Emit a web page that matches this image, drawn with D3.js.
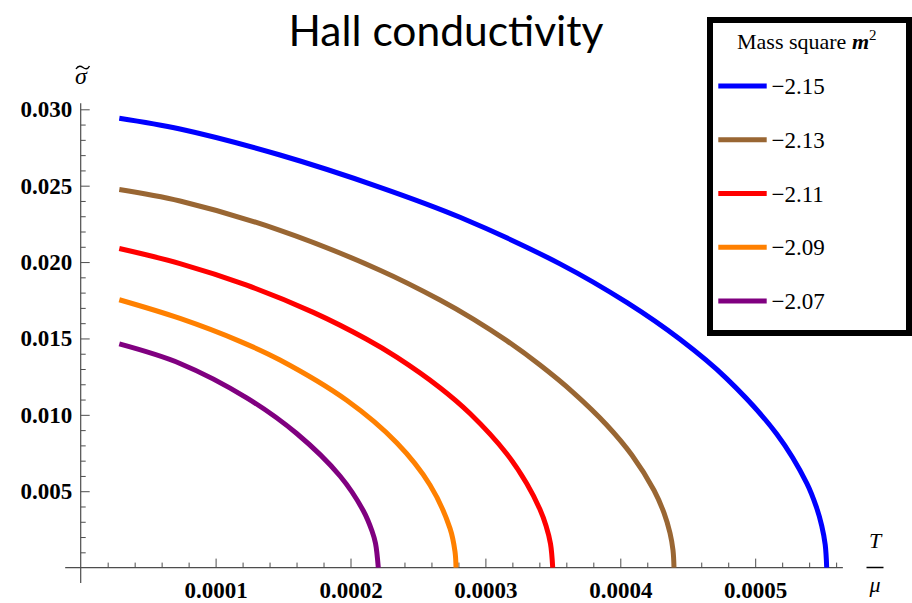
<!DOCTYPE html>
<meta charset="utf-8">
<head>
    <title>Hall conductivity</title>
    <script src="https://d3js.org/d3.v7.min.js"></script>
    <style>
        body {
            margin: 0;
            background: #fff;
        }

        svg {
            display: block;
        }

        .tick-label text {
            font-family: "Liberation Serif", "DejaVu Serif", serif;
            font-weight: bold;
            font-size: 23px;
            fill: #000;
        }

        .serif {
            font-family: "Liberation Serif", "DejaVu Serif", serif;
        }
    </style>
</head>

<body>
<div id="chart"></div>

<script>
    // legend entries (mass square m^2)
    var massLabels = ["\u22122.15", "\u22122.13", "\u22122.11", "\u22122.09", "\u22122.07"];
    var seriesColors = ["#0000ff", "#996633", "#ff0000", "#ff8000", "#800080"];

    // T / mu  and  sigma-tilde
    var tBlue = [0.00002861, 0.00007361, 0.00014774, 0.00022187, 0.00028117, 0.00035530, 0.00040474, 0.00044425,
        0.00047887, 0.00051594, 0.00053818, 0.00054559, 0.00054929, 0.00055189, 0.00055300];
    var sBlue = [0.029418, 0.028711, 0.027009, 0.024895, 0.022932, 0.019882, 0.017356, 0.014941,
        0.012369, 0.008743, 0.005530, 0.003901, 0.002749, 0.001505, 0];

    var tBrown = [0.00002861, 0.00007361, 0.00014774, 0.00022187, 0.00026635, 0.00029103, 0.00031579, 0.00034048,
        0.00036516, 0.00038992, 0.00040867, 0.00042498, 0.00043239, 0.00043684, 0.00043907, 0.00043981];
    var sBrown = [0.024751, 0.023999, 0.022081, 0.019470, 0.017520, 0.016270, 0.014856, 0.013259,
        0.011459, 0.009339, 0.007356, 0.005065, 0.003580, 0.002264, 0.001132, 0];

    var tRed = [0.00002861, 0.00007361, 0.00012305, 0.00017242, 0.00021201, 0.00023425, 0.00026635, 0.00028858,
        0.00031579, 0.00033062, 0.00034048, 0.00034493, 0.00034826, 0.00034989];
    var sRed = [0.020884, 0.019902, 0.018488, 0.016708, 0.014948, 0.013776, 0.011774, 0.010085,
        0.007454, 0.005504, 0.003802, 0.002742, 0.001564, 0];

    var tOrange = [0.00002861, 0.00007361, 0.00011809, 0.00014774, 0.00019718, 0.00023425, 0.00025893, 0.00027376,
        0.00027747, 0.00027821];
    var sOrange = [0.017533, 0.016309, 0.014810, 0.013586, 0.010949, 0.008168, 0.005406, 0.002565,
        0.001041, 0];

    var tPurple = [0.00002861, 0.00007361, 0.00012305, 0.00016012, 0.00019222, 0.00020949, 0.00021594, 0.00021853,
        0.00022061];
    var sPurple = [0.014640, 0.013364, 0.011113, 0.008776, 0.005995, 0.003724, 0.002395, 0.001590, 0];

    // axis ticks
    var xTicks = [0.0001, 0.0002, 0.0003, 0.0004, 0.0005];
    var xTickLabels = ["0.0001", "0.0002", "0.0003", "0.0004", "0.0005"];
    var yTicks = [0.005, 0.010, 0.015, 0.020, 0.025, 0.030];
    var yTickLabels = ["0.005", "0.010", "0.015", "0.020", "0.025", "0.030"];

    var width = 912,
        height = 603;

    var svg = d3.select("#chart")
        .append("svg")
        .attr("width", width)
        .attr("height", height);

    var x = d3.scaleLinear()
        .domain([0, 0.0005])
        .range([80.7, 755.2]);

    var y = d3.scaleLinear()
        .domain([0, 0.03])
        .range([567.6, 109.3]);

    // minor ticks
    var xMinor = d3.range(1, 29).filter(function (i) { return i % 5 !== 0; }).map(function (i) { return i * 0.00002; });
    var yMinor = d3.range(1, 31).filter(function (i) { return i % 5 !== 0; }).map(function (i) { return i * 0.001; });

    var axisColor = "#4d4d4d";

    // x axis
    var gx = svg.append("g").attr("transform", "translate(0," + y(0) + ")");
    gx.append("line")
        .attr("x1", x(-0.0000115)).attr("x2", x(0.000565))
        .attr("stroke", axisColor).attr("stroke-width", 1.2);
    gx.append("g")
        .call(d3.axisBottom(x).tickValues(xMinor).tickSizeInner(-5).tickSizeOuter(0).tickFormat(""))
        .call(function (g) { g.select(".domain").remove(); })
        .selectAll("line").attr("stroke", axisColor);
    gx.append("g")
        .attr("class", "tick-label")
        .call(d3.axisBottom(x).tickValues(xTicks).tickSizeInner(-9).tickSizeOuter(0).tickPadding(14)
            .tickFormat(function (d, i) { return xTickLabels[i]; }))
        .call(function (g) { g.select(".domain").remove(); })
        .selectAll("line").attr("stroke", axisColor);

    // y axis
    var gy = svg.append("g").attr("transform", "translate(" + x(0) + ",0)");
    gy.append("line")
        .attr("y1", y(-0.001)).attr("y2", y(0.0304))
        .attr("stroke", axisColor).attr("stroke-width", 1.2);
    gy.append("g")
        .call(d3.axisLeft(y).tickValues(yMinor).tickSizeInner(-5).tickSizeOuter(0).tickFormat(""))
        .call(function (g) { g.select(".domain").remove(); })
        .selectAll("line").attr("stroke", axisColor);
    gy.append("g")
        .attr("class", "tick-label")
        .call(d3.axisLeft(y).tickValues(yTicks).tickSizeInner(-9).tickSizeOuter(0).tickPadding(8.5)
            .tickFormat(function (d, i) { return yTickLabels[i]; }))
        .call(function (g) { g.select(".domain").remove(); })
        .selectAll("line").attr("stroke", axisColor);

    svg.selectAll(".tick-label text").attr("font-family", null).attr("font-size", null);

    // curves
    var series = [
        {t: tBlue, s: sBlue},
        {t: tBrown, s: sBrown},
        {t: tRed, s: sRed},
        {t: tOrange, s: sOrange},
        {t: tPurple, s: sPurple}
    ];

    var line = d3.line()
        .x(function (d) { return x(d[0]); })
        .y(function (d) { return y(d[1]); })
        .curve(d3.curveCatmullRom.alpha(0.5));

    svg.append("g")
        .selectAll("path")
        .data(series)
        .enter()
        .append("path")
        .attr("d", function (d) { return line(d3.zip(d.t, d.s)); })
        .attr("fill", "none")
        .attr("stroke", function (d, i) { return seriesColors[i]; })
        .attr("stroke-width", 5);

    // axis labels: sigma with a tilde drawn above it
    svg.append("text")
        .attr("class", "serif")
        .attr("x", 81)
        .attr("y", 84)
        .attr("text-anchor", "middle")
        .style("font-size", "24px")
        .style("font-style", "italic")
        .text("\u03c3");
    svg.append("path")
        .attr("d", "M76,69 C78.5,65 81,66 83,67.5 C85,69 87.5,70 89.5,66")
        .attr("fill", "none")
        .attr("stroke", "#000")
        .attr("stroke-width", 1.4);

    svg.append("text")
        .attr("class", "serif")
        .attr("x", 875)
        .attr("y", 548)
        .attr("text-anchor", "middle")
        .style("font-size", "22px")
        .style("font-style", "italic")
        .text("T");
    svg.append("line")
        .attr("x1", 866.5).attr("x2", 883.5)
        .attr("y1", 567.5).attr("y2", 567.5)
        .attr("stroke", "#000").attr("stroke-width", 1.5);
    svg.append("text")
        .attr("class", "serif")
        .attr("x", 875)
        .attr("y", 592)
        .attr("text-anchor", "middle")
        .style("font-size", "22px")
        .style("font-style", "italic")
        .text("\u03bc");

    // title, sized to the width it takes in the picture
    var title = svg.append("text")
        .attr("x", 446)
        .attr("y", 46)
        .attr("text-anchor", "middle")
        .style("font-family", "Lato, 'Open Sans', sans-serif")
        .style("font-size", "40px")
        .text("Hall conductivity");
    var tw = title.node().getComputedTextLength();
    title.style("font-size", (40 * 315 / tw) + "px");

    // legend
    var legend = svg.append("g");
    legend.append("rect")
        .attr("x", 710)
        .attr("y", 20)
        .attr("width", 199)
        .attr("height", 313)
        .attr("fill", "#fff")
        .attr("stroke", "#000")
        .attr("stroke-width", 6);

    var lt = legend.append("text")
        .attr("class", "serif")
        .attr("x", 737)
        .attr("y", 49)
        .style("font-size", "22px");
    lt.append("tspan").text("Mass square ");
    lt.append("tspan").style("font-style", "italic").style("font-weight", "bold").text("m");
    lt.append("tspan").attr("dy", -9).style("font-size", "15px").text("2");

    var rowY = d3.scaleLinear().domain([0, 4]).range([86, 301]);

    legend.selectAll("line.key")
        .data(massLabels)
        .enter()
        .append("line")
        .attr("class", "key")
        .attr("x1", 718.3)
        .attr("x2", 766.7)
        .attr("y1", function (d, i) { return rowY(i); })
        .attr("y2", function (d, i) { return rowY(i); })
        .attr("stroke", function (d, i) { return seriesColors[i]; })
        .attr("stroke-width", 5);

    legend.selectAll("text.key")
        .data(massLabels)
        .enter()
        .append("text")
        .attr("class", "key serif")
        .attr("x", 771.5)
        .attr("y", function (d, i) { return rowY(i) + 8; })
        .style("font-size", "23px")
        .text(function (d) { return d; });
</script>
</body>
